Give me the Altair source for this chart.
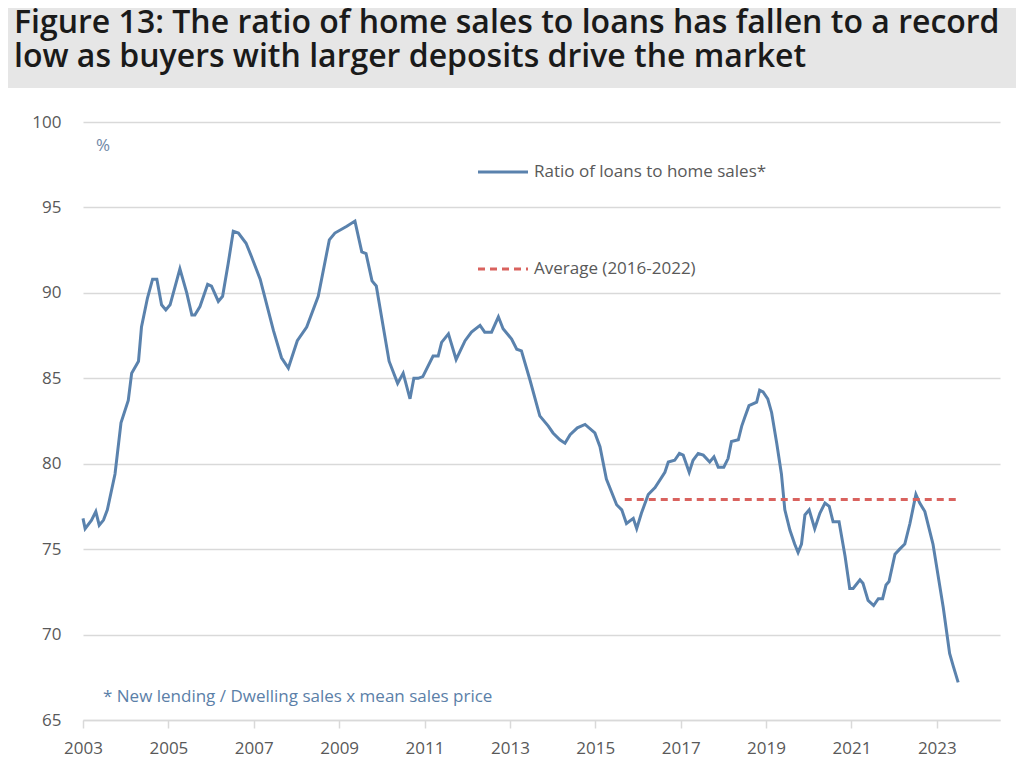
import altair as alt
import pandas as pd

years = [2003.00, 2003.05, 2003.20, 2003.30, 2003.38, 2003.48, 2003.57, 2003.75, 2003.89, 2004.06,
         2004.14, 2004.30, 2004.37, 2004.51, 2004.63, 2004.73, 2004.84, 2004.94, 2005.04, 2005.27,
         2005.43, 2005.55, 2005.62, 2005.74, 2005.92, 2006.01, 2006.17, 2006.27, 2006.40, 2006.52,
         2006.64, 2006.82, 2006.95, 2007.15, 2007.46, 2007.65, 2007.81, 2008.02, 2008.24, 2008.51,
         2008.77, 2008.90, 2009.18, 2009.37, 2009.53, 2009.63, 2009.77, 2009.87, 2010.17, 2010.37,
         2010.50, 2010.66, 2010.75, 2010.85, 2010.96, 2011.20, 2011.32, 2011.40, 2011.56, 2011.74,
         2011.95, 2012.10, 2012.30, 2012.41, 2012.57, 2012.73, 2012.84, 2013.04, 2013.16, 2013.27,
         2013.47, 2013.70, 2013.90, 2014.01, 2014.17, 2014.29, 2014.41, 2014.58, 2014.76, 2014.99,
         2015.11, 2015.26, 2015.50, 2015.62, 2015.73, 2015.89, 2015.97, 2016.08, 2016.24, 2016.40,
         2016.63, 2016.71, 2016.86, 2016.97, 2017.06, 2017.20, 2017.29, 2017.41, 2017.53, 2017.68,
         2017.78, 2017.88, 2018.01, 2018.11, 2018.19, 2018.35, 2018.43, 2018.50, 2018.60, 2018.78,
         2018.85, 2018.93, 2019.04, 2019.13, 2019.25, 2019.36, 2019.44, 2019.56, 2019.67, 2019.75,
         2019.83, 2019.91, 2020.01, 2020.14, 2020.26, 2020.38, 2020.48, 2020.57, 2020.71, 2020.85,
         2020.96, 2021.04, 2021.20, 2021.27, 2021.39, 2021.52, 2021.63, 2021.73, 2021.81, 2021.88,
         2022.02, 2022.13, 2022.25, 2022.37, 2022.51, 2022.60, 2022.72, 2022.91, 2023.15, 2023.30,
         2023.38, 2023.50]
ratio = [76.8, 76.2, 76.7, 77.2, 76.4, 76.7, 77.3, 79.4, 82.4, 83.7,
         85.3, 86.0, 88.0, 89.7, 90.8, 90.8, 89.3, 89.0, 89.3, 91.4,
         90.0, 88.7, 88.7, 89.2, 90.5, 90.4, 89.5, 89.8, 91.7, 93.6,
         93.5, 92.9, 92.1, 90.8, 87.8, 86.2, 85.6, 87.2, 88.0, 89.8,
         93.1, 93.5, 93.9, 94.2, 92.4, 92.3, 90.7, 90.4, 86.0, 84.7,
         85.3, 83.8, 85.0, 85.0, 85.1, 86.3, 86.3, 87.1, 87.6, 86.1,
         87.2, 87.7, 88.1, 87.7, 87.7, 88.6, 87.9, 87.3, 86.7, 86.6,
         84.9, 82.8, 82.2, 81.8, 81.4, 81.2, 81.7, 82.1, 82.3, 81.8,
         81.0, 79.1, 77.6, 77.3, 76.5, 76.8, 76.2, 77.1, 78.2, 78.6,
         79.5, 80.1, 80.2, 80.6, 80.5, 79.5, 80.2, 80.6, 80.5, 80.1,
         80.4, 79.8, 79.8, 80.3, 81.3, 81.4, 82.2, 82.7, 83.4, 83.6,
         84.3, 84.2, 83.8, 83.0, 81.2, 79.4, 77.3, 76.1, 75.3, 74.8,
         75.3, 77.0, 77.3, 76.2, 77.1, 77.7, 77.5, 76.6, 76.6, 74.6,
         72.7, 72.7, 73.2, 73.0, 72.0, 71.7, 72.1, 72.1, 72.9, 73.1,
         74.7, 75.0, 75.3, 76.5, 78.2, 77.7, 77.2, 75.3, 71.6, 68.9,
         68.2, 67.2]

avg_start = [2015.69]
avg_end = [2023.47]
avg_value = [77.9]

title_lines = ["Figure 13: The ratio of home sales to loans has fallen to a record",
               "low as buyers with larger deposits drive the market"]
legend_labels = ["Ratio of loans to home sales*", "Average (2016-2022)"]
footnote = "* New lending / Dwelling sales x mean sales price"
unit_label = "%"
y_ticks = [65, 70, 75, 80, 85, 90, 95, 100]
x_ticks = [2003, 2005, 2007, 2009, 2011, 2013, 2015, 2017, 2019, 2021, 2023]

W, H = 917, 598
LINE_COLOR = "#5a82ad"
AVG_COLOR = "#d9625e"
GRAY_TEXT = "#595959"
GRID = "#d9d9d9"
FONT = "Open Sans"

df = pd.DataFrame({"year": years, "ratio": ratio})
avg_df = pd.DataFrame({"s": avg_start, "e": avg_end, "v": avg_value})
one = pd.DataFrame({"k": [0]})

x_scale = alt.Scale(domain=[2003, 2024.48], nice=False, zero=False)
y_scale = alt.Scale(domain=[65, 100], nice=False, zero=False)

band = alt.Chart(one).mark_rect(color="#e6e6e6").encode(
    x=alt.value(-75), x2=alt.value(W + 16), y=alt.value(-114), y2=alt.value(-34)
)

title = alt.Chart(one).mark_text(
    align="left", baseline="alphabetic", fontSize=32, font="Open Sans", fontWeight=600,
    color="#1a1a1a", lineBreak="\n", lineHeight=34
).encode(x=alt.value(-69), y=alt.value(-89), text=alt.value("\n".join(title_lines)))

line = alt.Chart(df).mark_line(color=LINE_COLOR, strokeWidth=3).encode(
    x=alt.X("year:Q", scale=x_scale,
            axis=alt.Axis(values=x_ticks, format="d", title=None, grid=False,
                          domainColor=GRID, domainWidth=1.5, tickColor=GRID, tickSize=8,
                          tickWidth=1.5, labelFontSize=17, labelColor=GRAY_TEXT, labelFont=FONT,
                          labelPadding=12, labelFlush=False, labelOverlap=False)),
    y=alt.Y("ratio:Q", scale=y_scale,
            axis=alt.Axis(values=y_ticks, title=None, domain=False, ticks=False,
                          gridColor=GRID, gridWidth=1.5,
                          labelFontSize=17, labelColor=GRAY_TEXT, labelFont=FONT,
                          labelPadding=22, labelOverlap=False)),
)

avg = alt.Chart(avg_df).mark_rule(color=AVG_COLOR, strokeWidth=3, strokeDash=[7, 5]).encode(
    x=alt.X("s:Q", scale=x_scale, title=None), x2="e:Q",
    y=alt.Y("v:Q", scale=y_scale, title=None),
)

leg1_line = alt.Chart(one).mark_rule(color=LINE_COLOR, strokeWidth=3).encode(
    x=alt.value(395), x2=alt.value(445), y=alt.value(50))
leg2_line = alt.Chart(one).mark_rule(color=AVG_COLOR, strokeWidth=3, strokeDash=[7, 5]).encode(
    x=alt.value(395), x2=alt.value(445), y=alt.value(147))
leg_text_style = dict(align="left", baseline="middle", fontSize=17, font=FONT, color=GRAY_TEXT)
leg1_text = alt.Chart(one).mark_text(**leg_text_style).encode(
    x=alt.value(451), y=alt.value(50), text=alt.value(legend_labels[0]))
leg2_text = alt.Chart(one).mark_text(**leg_text_style).encode(
    x=alt.value(451), y=alt.value(147), text=alt.value(legend_labels[1]))

unit = alt.Chart(one).mark_text(align="left", baseline="middle", fontSize=17, font=FONT,
                                color="#6f88a6").encode(
    x=alt.value(13), y=alt.value(24), text=alt.value(unit_label))
foot = alt.Chart(one).mark_text(align="left", baseline="middle", fontSize=17, font=FONT,
                                color="#5b80a8").encode(
    x=alt.value(20), y=alt.value(575), text=alt.value(footnote))

chart = alt.layer(
    band, title, line, avg, leg1_line, leg2_line, leg1_text, leg2_text, unit, foot
).properties(
    width=W, height=H,
    padding={"left": 75, "top": 114, "right": 16, "bottom": 40},
    autosize=alt.AutoSizeParams(type="none"),
).configure_view(stroke=None)

chart.save("out.html", embed_options={"renderer": "svg", "actions": False})
